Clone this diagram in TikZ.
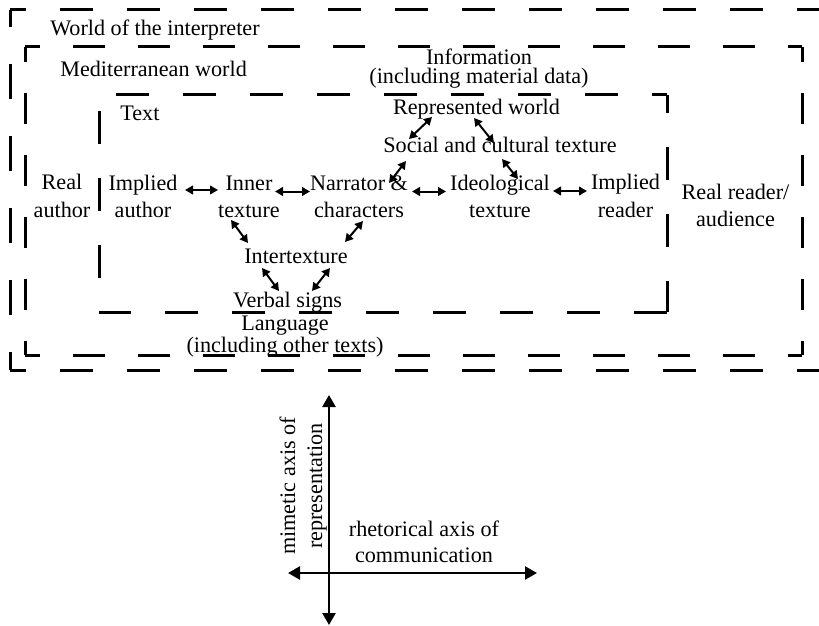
\documentclass[tikz,border=0pt]{standalone}
\usepackage{fontspec}
\setmainfont{Liberation Serif}
\usetikzlibrary{calc,arrows.meta}

\begin{document}
\begin{tikzpicture}[x=0.6pt, y=-0.6pt,
    lbl/.style={font=\fontsize{13.3pt}{16.5pt}\selectfont, inner sep=0pt, align=center, anchor=base},
    frame/.style={line width=1.8pt},
    longdash/.style={frame, dash pattern=on 19.8pt off 20.4pt},
    outerside/.style={frame, dash pattern=on 21pt off 22.2pt},
    medhoriz/.style={frame, dash pattern=on 19.2pt off 19.8pt},
    medside/.style={frame, dash pattern=on 18.6pt off 18.6pt},
    dbl/.style={line width=1.2pt, {Triangle[length=4.8pt,width=5.2pt]}-{Triangle[length=4.8pt,width=5.2pt]}},
    axis/.style={line width=1.5pt, {Triangle[length=7.2pt,width=7.8pt]}-{Triangle[length=7.2pt,width=7.8pt]}}]
    \useasboundingbox (0,0) rectangle (819,626);

    % world of the interpreter
    \draw[longdash, dash phase=10.2pt] (10,10) -- (819,10);
    \draw[longdash, dash phase=10.2pt] (10,370) -- (819,370);
    \draw[outerside, dash phase=10.8pt] (10,10) -- (10,370);
    % mediterranean world
    \draw[medhoriz, dash phase=10.2pt] (25,47) -- (802,47);
    \draw[medhoriz, dash phase=10.2pt] (25,355) -- (802,355);
    \draw[medside, dash phase=9.6pt] (25,47) -- (25,355);
    \draw[medside, dash phase=9.6pt] (802,47) -- (802,355);
    % text
    \draw[longdash, dash phase=10.8pt] (667,95) -- (99,95);
    \draw[longdash, dash phase=9pt] (667,95) -- (667,312);
    \draw[longdash, dash phase=0pt] (667,312) -- (99,312);
    \draw[longdash, dash phase=19.8pt] (99,312) -- (99,95);

    \node[lbl, anchor=base west] (world) at (50,36) {World of the interpreter};
    \node[lbl, anchor=base west] (med) at (60,77) {Mediterranean world};
    \node[lbl, anchor=base west] (txt) at (120,120) {Text};
    \node[lbl, font=\fontsize{13.3pt}{11.7pt}\selectfont] (info) at (479,83.5) {Information\\(including material data)};
    \node[lbl] (rep) at (476.5,114.5) {Represented world};
    \node[lbl] (soc) at (500,153) {Social and cultural texture};
    \node[lbl] (realauth) at (62,217) {Real\\author};
    \node[lbl] (impauth) at (143,217.5) {Implied\\author};
    \node[lbl] (inner) at (249,217.5) {Inner\\texture};
    \node[lbl] (narr) at (359,217.5) {Narrator \&\\characters};
    \node[lbl] (ideo) at (500,217.5) {Ideological\\texture};
    \node[lbl] (impread) at (625.5,217) {Implied\\reader};
    \node[lbl] (realread) at (735.5,226.5) {Real reader/\\audience};
    \node[lbl] (intertex) at (296,263.5) {Intertexture};
    \node[lbl] (verbal) at (287.5,307) {Verbal signs};
    \node[lbl, font=\fontsize{13.3pt}{13.2pt}\selectfont] (lang) at (285,352) {Language\\(including other texts)};

    \draw[dbl] ($(impauth.base)+(42,-27.5)$) -- ($(inner.base)+(-31,-27.5)$);
    \draw[dbl] ($(inner.base)+(26,-26)$) -- ($(narr.base)+(-49,-26)$);
    \draw[dbl] ($(narr.base)+(53,-26)$) -- ($(ideo.base)+(-54,-26)$);
    \draw[dbl] ($(ideo.base)+(53,-26.5)$) -- ($(impread.base)+(-38.5,-26)$);
    \draw[dbl] ($(rep.base)+(-44.5,2.5)$) -- ($(soc.base)+(-91,-14)$);
    \draw[dbl] ($(rep.base)+(-2.5,3.5)$) -- ($(soc.base)+(-6,-10)$);
    \draw[dbl] ($(soc.base)+(-94,8)$) -- ($(narr.base)+(30,-34.5)$);
    \draw[dbl] ($(soc.base)+(2,6)$) -- ($(ideo.base)+(18,-38.5)$);
    \draw[dbl] ($(inner.base)+(-18,2.5)$) -- ($(intertex.base)+(-48,-20.5)$);
    \draw[dbl] ($(narr.base)+(4,3.5)$) -- ($(intertex.base)+(49,-21.5)$);
    \draw[dbl] ($(intertex.base)+(-34,4.5)$) -- ($(verbal.base)+(-8.5,-16)$);
    \draw[dbl] ($(intertex.base)+(34,4.5)$) -- ($(verbal.base)+(24.5,-16)$);

    \coordinate (ntop) at (329,395);
    \coordinate (nbot) at (329,625);
    \coordinate (wleft) at (288,573);
    \coordinate (wright) at (537,573);
    \draw[axis] (nbot) -- (ntop);
    \draw[axis] (wleft) -- (wright);
    \node[lbl, rotate=90, font=\fontsize{13.3pt}{16.2pt}\selectfont] (mim) at (322,486) {mimetic axis of\\representation};
    \node[lbl, font=\fontsize{13.3pt}{15.3pt}\selectfont] (rhet) at (424,562) {rhetorical axis of\\communication};
\end{tikzpicture}
\end{document}
